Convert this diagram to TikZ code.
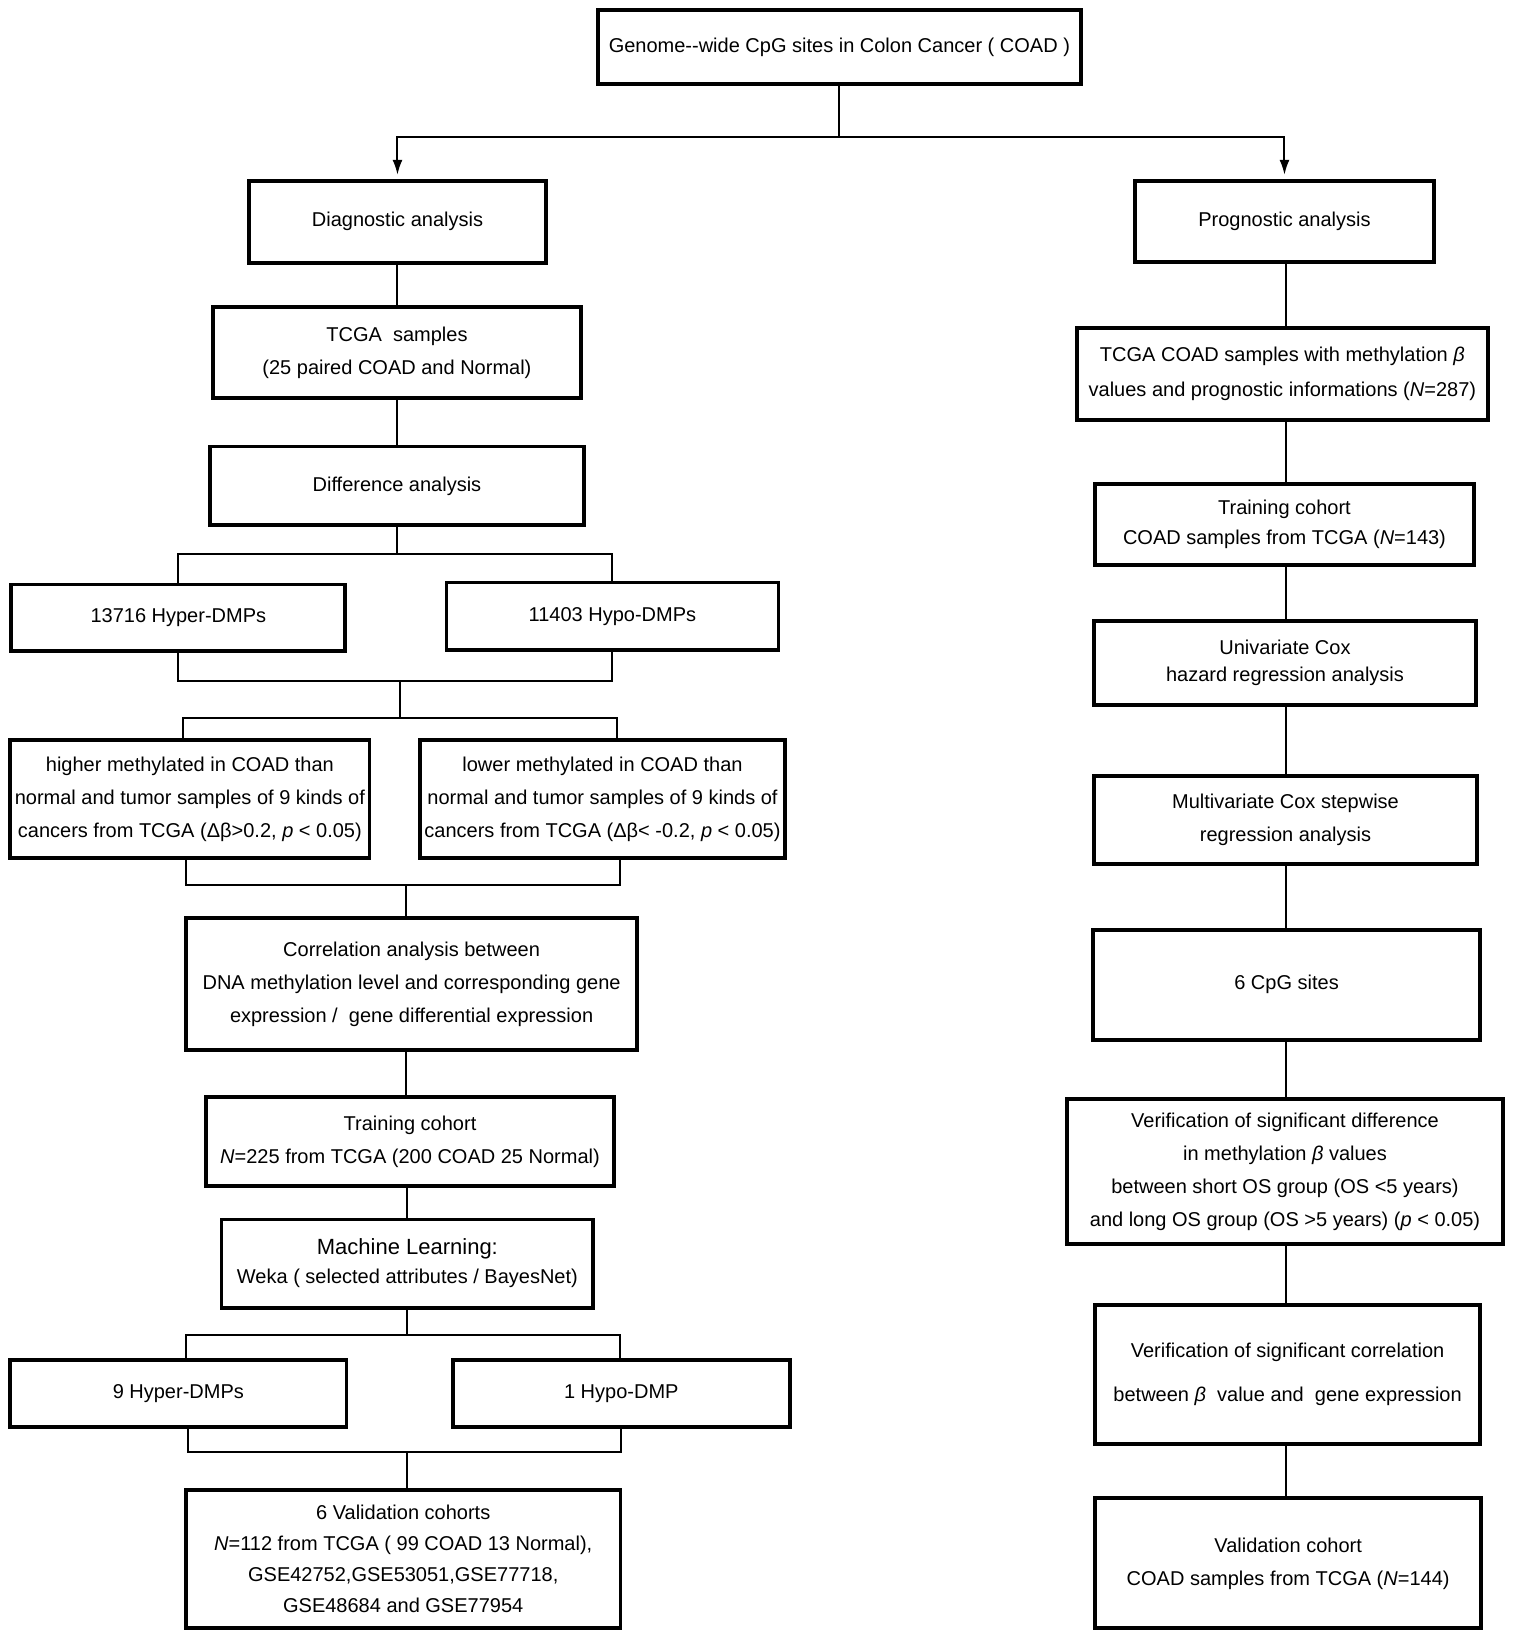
\documentclass[tikz,border=0pt]{standalone}
\usepackage{fontspec}
\setmainfont{Liberation Sans}
\usetikzlibrary{arrows.meta}
\tikzset{
  box/.style={draw, line width=1.9pt, align=center, inner sep=2pt, font=\fontsize{10}{16.5}\selectfont},
  conn/.style={line width=1pt},
  arr/.style={conn, -{Latex[length=7.5pt,width=5pt]}, shorten >=2pt}
}
\newcommand\mybox[7][]{%
  \pgfmathsetmacro\cx{(#3+#4)/2}%
  \pgfmathsetmacro\cy{(#5+#6)/2}%
  \pgfmathsetmacro\ww{(#4-#3)*0.523-1.9}%
  \pgfmathsetmacro\hh{(#6-#5)*0.523-1.9}%
  \node[box,minimum width=\ww pt,minimum height=\hh pt,#1] (#2) at (\cx,\cy) {#7};}
\begin{document}
\begin{tikzpicture}[x=0.523pt,y=-0.523pt]
\useasboundingbox (0,0) rectangle (1448.4,1567.9);
% ---------- boxes ----------
\mybox{top}{570}{1035}{8}{82}{Genome-{}-wide CpG sites in Colon Cancer ( COAD )}
\mybox{diag}{236}{524}{171}{253}{Diagnostic analysis}
\mybox{prog}{1083}{1373}{171}{252}{\raisebox{2pt}{Prognostic analysis}}
\mybox{tcga}{202}{557}{292}{382}{TCGA\ \ samples\\(25 paired COAD and Normal)}
\mybox{diff}{199}{560}{425}{504}{Difference analysis}
\mybox{hyper}{9}{332}{557}{624}{13716 Hyper-DMPs}
\mybox{hypo}{425}{746}{555}{623}{11403 Hypo-DMPs}
\mybox{higher}{8}{355}{706}{822}{higher methylated in COAD than\\normal and tumor samples of 9 kinds of\\cancers from TCGA (Δβ>0.2, \textit{p} < 0.05)}
\mybox{lower}{400}{752}{706}{822}{lower methylated in COAD than\\normal and tumor samples of 9 kinds of\\cancers from TCGA (Δβ< -0.2, \textit{p} < 0.05)}
\mybox{corr}{176}{611}{876}{1006}{Correlation analysis between\\DNA methylation level and corresponding gene\\expression /\ \ gene differential expression}
\mybox{train}{195}{589}{1047}{1136}{Training cohort\\\textit{N}=225 from TCGA (200 COAD 25 Normal)}
\mybox[font=\fontsize{10}{14.5}\selectfont]{ml}{210}{569}{1164}{1252}{{\fontsize{11}{14.5}\selectfont Machine Learning:}\\Weka ( selected attributes / BayesNet)}
\mybox{nine}{8}{333}{1298}{1366}{9 Hyper-DMPs}
\mybox{one}{431}{757}{1298}{1366}{\raisebox{2pt}{1 Hypo-DMP}}
\mybox[font=\fontsize{10}{15.5}\selectfont]{val}{176}{595}{1423}{1558}{6 Validation cohorts\\\textit{N}=112 from TCGA ( 99 COAD 13 Normal),\\GSE42752,GSE53051,GSE77718,\\GSE48684 and GSE77954}
% right column
\mybox[font=\fontsize{10}{17.5}\selectfont]{tcoad}{1028}{1424}{312}{403}{TCGA COAD samples with methylation \textit{β}\\values and prognostic informations (\textit{N}=287)}
\mybox[font=\fontsize{10}{15}\selectfont]{train2}{1045}{1411}{461}{542}{Training cohort\\COAD samples from TCGA (\textit{N}=143)}
\mybox[font=\fontsize{10}{13.5}\selectfont]{uni}{1044}{1413}{592}{676}{Univariate Cox\\hazard regression analysis}
\mybox{multi}{1044}{1414}{740}{828}{Multivariate Cox stepwise\\regression analysis}
\mybox{cpg}{1043}{1417}{887}{996}{\raisebox{2pt}{6 CpG sites}}
\mybox{verd}{1018}{1439}{1049}{1191}{Verification of significant difference\\in methylation \textit{β} values\\between short OS group (OS <5 years)\\and long OS group (OS >5 years) (\textit{p} < 0.05)}
\mybox[font=\fontsize{10}{22}\selectfont]{verc}{1045}{1417}{1246}{1382}{Verification of significant correlation\\between \textit{β}\ \ value and\ \ gene expression}
\mybox{valc}{1045}{1418}{1430}{1558}{\raisebox{2pt}{\begin{tabular}{@{}c@{}}Validation cohort\\COAD samples from TCGA (\textit{N}=144)\end{tabular}}}
% ---------- connectors ----------
\coordinate (j1) at (803,131);
\draw[conn] (top.south) -- (top.south |- j1);
\draw[arr] (j1) -| (diag.north);
\draw[arr] (j1) -| (prog.north);
% left column
\draw[conn] (diag.south) -- (tcga.north -| diag.south);
\draw[conn] (tcga.south) -- (diff.north -| tcga.south);
\coordinate (j2) at (380,530);
\draw[conn] (diff.south -| j2) -- (j2);
\draw[conn] (hyper.north) |- (hypo.north |- j2) -- (hypo.north);
\coordinate (j3) at (382,651);
\coordinate (j4) at (382,686);
\draw[conn] (hyper.south) |- (hypo.south |- j3) -- (hypo.south);
\draw[conn] (j3) -- (j4);
\coordinate (a) at (175,686);
\coordinate (b) at (590,686);
\draw[conn] (a |- higher.north) -- (a) -- (b) -- (b |- lower.north);
\coordinate (c) at (178,846);
\coordinate (d) at (593,846);
\coordinate (j5) at (388,846);
\draw[conn] (c |- higher.south) -- (c) -- (d) -- (d |- lower.south);
\draw[conn] (j5) -- (j5 |- corr.north);
\draw[conn] (corr.south -| j5) -- (train.north -| j5);
\coordinate (j6) at (389,1276);
\draw[conn] (train.south -| j6) -- (ml.north -| j6);
\draw[conn] (ml.south -| j6) -- (j6);
\coordinate (e) at (178,1276);
\coordinate (f) at (593,1276);
\draw[conn] (e |- nine.north) -- (e) -- (f) -- (f |- one.north);
\coordinate (g) at (180,1388);
\coordinate (h) at (594,1388);
\coordinate (j7) at (389,1388);
\draw[conn] (g |- nine.south) -- (g) -- (h) -- (h |- one.south);
\draw[conn] (j7) -- (j7 |- val.north);
% right column
\coordinate (rx) at (1229,0);
\draw[conn] (prog.south -| rx) -- (tcoad.north -| rx);
\draw[conn] (tcoad.south -| rx) -- (train2.north -| rx);
\draw[conn] (train2.south -| rx) -- (uni.north -| rx);
\draw[conn] (uni.south -| rx) -- (multi.north -| rx);
\draw[conn] (multi.south -| rx) -- (cpg.north -| rx);
\draw[conn] (cpg.south -| rx) -- (verd.north -| rx);
\draw[conn] (verd.south -| rx) -- (verc.north -| rx);
\draw[conn] (verc.south -| rx) -- (valc.north -| rx);
\end{tikzpicture}
\end{document}
